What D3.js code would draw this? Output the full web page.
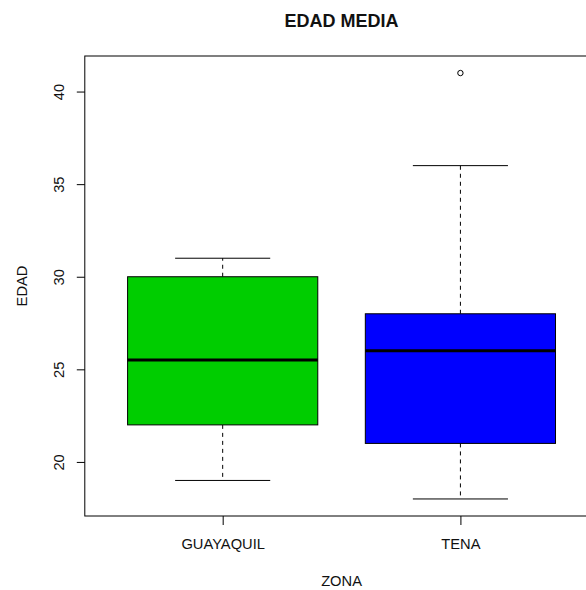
<!DOCTYPE html>
<html>
<head>
<meta charset="utf-8">
<script src="https://cdn.jsdelivr.net/npm/d3@7"></script>
<style>
    body { margin: 0; background: #fff; }
    text { font-family: "Liberation Sans", Arial, sans-serif; fill: #111; }
</style>
</head>
<body>
<div id="chart"></div>
<script>
(() => {
    const zonas = ['GUAYAQUIL', 'TENA'];
    const colores = ['#00CD00', '#0000FF'];
    const bigoteInf = [19, 18];
    const cuartil1 = [22, 21];
    const mediana = [25.5, 26];
    const cuartil3 = [30, 28];
    const bigoteSup = [31, 36];
    const atipicos = [[], [41]];
    const yTicks = [20, 25, 30, 35, 40];

    const width = 586;
    const height = 590;
    const plot = { left: 84.8, right: 598.3, top: 56, bottom: 516 };

    const boxes = zonas.map((zona, i) => ({
        zona,
        i: i + 1,
        color: colores[i],
        lo: bigoteInf[i],
        q1: cuartil1[i],
        med: mediana[i],
        q3: cuartil3[i],
        hi: bigoteSup[i],
        out: atipicos[i],
    }));

    // rango de datos + 4% como en R
    const allVals = boxes.flatMap(d => [d.lo, d.hi, ...d.out]);
    const yMin = d3.min(allVals);
    const yMax = d3.max(allVals);
    const pad = (yMax - yMin) * 0.04;

    const y = d3.scaleLinear()
        .domain([yMin - pad, yMax + pad])
        .range([plot.bottom, plot.top]);

    const xPad = (zonas.length) * 0.04;
    const x = d3.scaleLinear()
        .domain([0.5 - xPad, zonas.length + 0.5 + xPad])
        .range([plot.left, plot.right]);

    const svg = d3.select('#chart')
        .append('svg')
        .attr('width', width)
        .attr('height', height);

    const boxW = 0.8;
    const capW = 0.4;

    const g = svg.selectAll('.box')
        .data(boxes)
        .enter()
        .append('g')
        .attr('class', 'box');

    // bigotes (lineas discontinuas)
    g.append('line')
        .attr('x1', d => x(d.i)).attr('x2', d => x(d.i))
        .attr('y1', d => y(d.q3)).attr('y2', d => y(d.hi))
        .attr('stroke', '#000').attr('stroke-dasharray', '4,4');
    g.append('line')
        .attr('x1', d => x(d.i)).attr('x2', d => x(d.i))
        .attr('y1', d => y(d.q1)).attr('y2', d => y(d.lo))
        .attr('stroke', '#000').attr('stroke-dasharray', '4,4');

    // topes
    g.append('line')
        .attr('x1', d => x(d.i - capW / 2)).attr('x2', d => x(d.i + capW / 2))
        .attr('y1', d => y(d.hi)).attr('y2', d => y(d.hi))
        .attr('stroke', '#000');
    g.append('line')
        .attr('x1', d => x(d.i - capW / 2)).attr('x2', d => x(d.i + capW / 2))
        .attr('y1', d => y(d.lo)).attr('y2', d => y(d.lo))
        .attr('stroke', '#000');

    // caja
    g.append('rect')
        .attr('x', d => x(d.i - boxW / 2))
        .attr('y', d => y(d.q3))
        .attr('width', d => x(d.i + boxW / 2) - x(d.i - boxW / 2))
        .attr('height', d => y(d.q1) - y(d.q3))
        .attr('fill', d => d.color)
        .attr('stroke', '#000');

    // mediana
    g.append('line')
        .attr('x1', d => x(d.i - boxW / 2)).attr('x2', d => x(d.i + boxW / 2))
        .attr('y1', d => y(d.med)).attr('y2', d => y(d.med))
        .attr('stroke', '#000').attr('stroke-width', 3);

    // atipicos
    g.selectAll('.out')
        .data(d => d.out.map(v => ({ i: d.i, v })))
        .enter()
        .append('circle')
        .attr('cx', d => x(d.i))
        .attr('cy', d => y(d.v))
        .attr('r', 2.7)
        .attr('fill', 'none')
        .attr('stroke', '#000');

    // marco
    svg.append('rect')
        .attr('x', plot.left)
        .attr('y', plot.top)
        .attr('width', plot.right - plot.left)
        .attr('height', plot.bottom - plot.top)
        .attr('fill', 'none')
        .attr('stroke', '#000');

    // eje y
    const yAxis = svg.append('g')
        .attr('transform', `translate(${plot.left},0)`)
        .call(d3.axisLeft(y).tickValues(yTicks).tickSize(8).tickPadding(0));
    yAxis.select('.domain').remove();
    yAxis.selectAll('text').remove();
    yAxis.selectAll('.tick line').attr('stroke', '#000');
    yAxis.selectAll('.tick')
        .append('text')
        .attr('transform', 'translate(-26,0) rotate(-90)')
        .attr('text-anchor', 'middle')
        .attr('dy', '0.36em')
        .style('font-size', '14.7px')
        .text(d => d);

    // eje x
    const xAxis = svg.append('g')
        .attr('transform', `translate(0,${plot.bottom})`)
        .call(d3.axisBottom(x).tickValues(boxes.map(d => d.i)).tickSize(9)
            .tickFormat(d => zonas[d - 1]));
    xAxis.select('.domain').remove();
    xAxis.selectAll('.tick line').attr('stroke', '#000');
    xAxis.selectAll('.tick text')
        .attr('y', 28)
        .attr('dy', '0.36em')
        .style('font-size', '14.7px')
        .style('font-family', '"Liberation Sans", Arial, sans-serif')
        .attr('fill', '#111');

    const cx = (plot.left + plot.right) / 2;

    svg.append('text')
        .attr('x', cx)
        .attr('y', 20.5)
        .attr('dy', '0.36em')
        .attr('text-anchor', 'middle')
        .style('font-size', '18px')
        .style('font-weight', 'bold')
        .text('EDAD MEDIA');

    svg.append('text')
        .attr('x', cx)
        .attr('y', 581)
        .attr('dy', '0.36em')
        .attr('text-anchor', 'middle')
        .style('font-size', '14.7px')
        .text('ZONA');

    svg.append('text')
        .attr('transform', `translate(22,${(plot.top + plot.bottom) / 2}) rotate(-90)`)
        .attr('dy', '0.36em')
        .attr('text-anchor', 'middle')
        .style('font-size', '14.7px')
        .text('EDAD');
})();
</script>
</body>
</html>
